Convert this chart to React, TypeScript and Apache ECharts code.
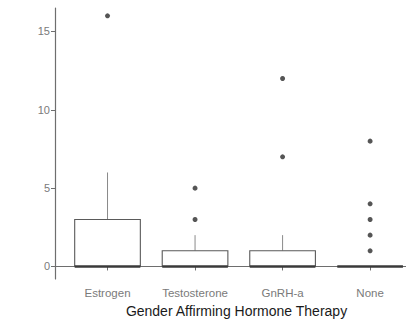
import React, { useEffect, useRef } from "react";
import * as echarts from "echarts";

const categories = ["Estrogen", "Testosterone", "GnRH-a", "None"];
const whiskerLow = [0, 0, 0, 0];
const q1 = [0, 0, 0, 0];
const median = [0, 0, 0, 0];
const q3 = [3, 1, 1, 0];
const whiskerHigh = [6, 2, 2, 0];
const outliers: number[][] = [[16], [3, 5], [7, 12], [1, 2, 3, 4, 8]];
const yTicks = [0, 5, 10, 15];
const xTitle = "Gender Affirming Hormone Therapy";

export default function App() {
  const ref = useRef<HTMLDivElement>(null);
  useEffect(() => {
    if (!ref.current) return;
    const chart = echarts.init(ref.current, null, { renderer: "svg" });
    const boxData = categories.map((_, i) => [
      i + 1,
      whiskerLow[i],
      q1[i],
      median[i],
      q3[i],
      whiskerHigh[i],
    ]);
    const outlierData: number[][] = [];
    outliers.forEach((arr, i) => arr.forEach((v) => outlierData.push([i + 1, v])));
    const half = 0.375;
    chart.setOption({
      animation: false,
      grid: { left: 55, top: 8, right: 0, bottom: 41, containLabel: false, outerBoundsMode: "none" },
      xAxis: {
        type: "value",
        min: 0.4,
        max: 4.41,
        name: xTitle,
        nameLocation: "middle",
        nameGap: 23,
        nameTextStyle: {
          fontFamily: "Liberation Sans",
          fontSize: 14,
          color: "#1a1a1a",
          padding: [0, 0, 0, 12],
        },
        splitLine: { show: false },
        axisLine: { show: true, lineStyle: { color: "#6e6e6e", width: 1.2 } },
        axisTick: { show: true, length: 4, customValues: [1, 2, 3, 4], lineStyle: { color: "#6e6e6e" } },
        axisLabel: {
          customValues: [1, 2, 3, 4],
          formatter: (v: number) => categories[Math.round(v) - 1] ?? "",
          fontFamily: "Liberation Sans",
          fontSize: 11.5,
          color: "#7a7a7a",
          margin: 8,
        },
      },
      yAxis: {
        type: "value",
        min: -0.8,
        max: 16.5,
        splitLine: { show: false },
        axisLine: { show: true, lineStyle: { color: "#6e6e6e", width: 1.2 } },
        axisTick: { show: true, length: 4, customValues: yTicks, lineStyle: { color: "#6e6e6e" } },
        axisLabel: {
          customValues: yTicks,
          fontFamily: "Liberation Sans",
          fontSize: 11,
          color: "#7a7a7a",
          margin: 5,
        },
      },
      series: [
        {
          type: "custom",
          data: boxData,
          clip: false,
          renderItem: (params: any, api: any) => {
            const x = api.value(0);
            const lo = api.value(1);
            const b1 = api.value(2);
            const md = api.value(3);
            const b3 = api.value(4);
            const hi = api.value(5);
            const pTL = api.coord([x - half, b3]);
            const pBR = api.coord([x + half, b1]);
            const pHi = api.coord([x, hi]);
            const pQ3 = api.coord([x, b3]);
            const pQ1 = api.coord([x, b1]);
            const pLo = api.coord([x, lo]);
            const pMdL = api.coord([x - half, md]);
            const pMdR = api.coord([x + half, md]);
            return {
              type: "group",
              children: [
                {
                  type: "line",
                  shape: { x1: pQ3[0], y1: pQ3[1], x2: pHi[0], y2: pHi[1] },
                  style: { stroke: "#8a8a8a", lineWidth: 1 },
                },
                {
                  type: "line",
                  shape: { x1: pQ1[0], y1: pQ1[1], x2: pLo[0], y2: pLo[1] },
                  style: { stroke: "#8a8a8a", lineWidth: 1 },
                },
                {
                  type: "rect",
                  shape: {
                    x: pTL[0],
                    y: pTL[1],
                    width: pBR[0] - pTL[0],
                    height: pBR[1] - pTL[1],
                  },
                  style: { fill: "#ffffff", stroke: "#5a5a5a", lineWidth: 1.1 },
                },
                {
                  type: "line",
                  shape: { x1: pMdL[0], y1: pMdL[1], x2: pMdR[0], y2: pMdR[1] },
                  style: { stroke: "#3a3a3a", lineWidth: 2.4 },
                },
              ],
            };
          },
        },
        {
          type: "scatter",
          data: outlierData,
          symbol: "circle",
          symbolSize: 5,
          itemStyle: { color: "#2a2a2a" },
        },
      ],
    });
    return () => chart.dispose();
  }, []);
  return (
    <div
      ref={ref}
      style={{ position: "fixed", left: 0, top: 0, width: 406, height: 320, background: "#fff" }}
    />
  );
}
